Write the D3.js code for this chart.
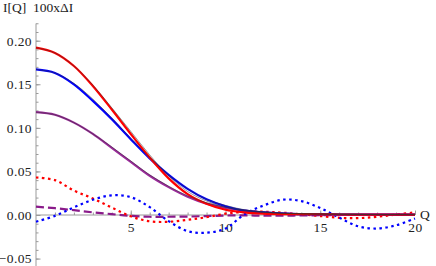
<!DOCTYPE html>
<html>
<head>
<meta charset="utf-8">
<script src="https://cdn.jsdelivr.net/npm/d3@7/dist/d3.min.js"></script>
<style>
  body { margin: 0; background: #fff; }
</style>
</head>
<body>
<div id="chart"></div>
<script>
// Q grid and curves
const qValues = [0, 1, 2, 3, 4, 5, 6, 7, 8, 9, 10, 11, 12, 13, 14, 15, 16, 17, 18, 19, 20];

const redI    = [0.192, 0.186, 0.171, 0.148, 0.121, 0.093, 0.066, 0.042, 0.024, 0.013, 0.006, 0.003, 0.0015, 0.001, 0.001, 0.0008, 0.0006, 0.0005, 0.0004, 0.0004, 0.0004];
const blueI   = [0.167, 0.163, 0.150, 0.131, 0.110, 0.087, 0.065, 0.046, 0.030, 0.018, 0.010, 0.005, 0.003, 0.0015, 0.001, 0.0008, 0.0006, 0.0005, 0.0004, 0.0004, 0.0004];
const purpleI = [0.118, 0.115, 0.106, 0.093, 0.077, 0.061, 0.045, 0.032, 0.021, 0.013, 0.008, 0.005, 0.003, 0.002, 0.001, 0.0008, 0.0006, 0.0005, 0.0004, 0.0004, 0.0004];

// thin black model curves drawn over the data
const fitRed    = [0.192, 0.186, 0.171, 0.149, 0.123, 0.096, 0.069, 0.045, 0.027, 0.016, 0.009, 0.005, 0.003, 0.002, 0.0015, 0.001, 0.001, 0.0008, 0.0006, 0.0005, 0.0005];
const fitBlue   = [0.167, 0.163, 0.151, 0.133, 0.111, 0.088, 0.066, 0.046, 0.030, 0.018, 0.011, 0.006, 0.0035, 0.002, 0.0013, 0.001, 0.0008, 0.0006, 0.0005, 0.0005, 0.0005];
const fitPurple = [0.118, 0.115, 0.106, 0.093, 0.078, 0.062, 0.046, 0.033, 0.022, 0.014, 0.009, 0.0055, 0.0035, 0.002, 0.0015, 0.001, 0.0008, 0.0006, 0.0005, 0.0005, 0.0005];

// 100 x deltaI
const redDelta    = [0.043, 0.040, 0.028, 0.019, 0.0085, -0.0015, -0.0072, -0.0078, -0.0055, -0.0025, 0.0015, 0.0035, 0.0038, 0.0027, 0.0008, -0.0012, -0.0032, -0.0036, -0.002, 0.0005, 0.003];
const blueDelta   = [-0.0077, -0.001, 0.0088, 0.0175, 0.0226, 0.0205, 0.009, -0.007, -0.0185, -0.0203, -0.0155, 0.0008, 0.0108, 0.0175, 0.016, 0.008, -0.003, -0.013, -0.0155, -0.0118, -0.004];
const purpleDelta = [0.0095, 0.0078, 0.0055, 0.003, 0.001, -0.001, -0.002, -0.002, -0.0018, -0.0012, -0.0006, -0.0004, -0.0008, -0.0008, -0.0005, -0.0003, 0, 0, 0, 0, 0];

const xMajor = [5, 10, 15, 20];
const xMinor = d3.range(1, 21);
const yMajor = [-0.05, 0, 0.05, 0.10, 0.15, 0.20];
const yMajorLabels = ["\u22120.05", "0.00", "0.05", "0.10", "0.15", "0.20"];
const yMinor = d3.range(-5, 23).map(d => d / 100);

const width = 436;
const height = 266;
const serif = "'Times New Roman', serif";

const svg = d3.select("#chart").append("svg")
    .attr("width", width)
    .attr("height", height)
    .attr("font-family", serif)
    .attr("font-size", 13.5);

const x = d3.scaleLinear().domain([0, 20]).range([36, 415]);
const y = d3.scaleLinear().domain([0, 0.2]).range([215, 40.7]);

const axisColor = "#9a9a9a";

function styleTicks(g) {
    g.attr("font-family", serif).attr("font-size", 13.5);
    g.select(".domain").remove();
    g.selectAll(".tick line").attr("stroke", axisColor);
    g.selectAll(".tick text").attr("fill", "#222").attr("letter-spacing", 0.4);
}

// Y axis (ticks point right, into the plot)
svg.append("g")
    .attr("transform", `translate(${x(0)},0)`)
    .call(d3.axisLeft(y).tickValues(yMinor).tickSize(-2.5).tickFormat(""))
    .call(styleTicks);

svg.append("g")
    .attr("transform", `translate(${x(0)},0)`)
    .call(d3.axisLeft(y).tickValues(yMajor).tickSize(-4.5).tickPadding(4)
        .tickFormat((d, i) => yMajorLabels[i]))
    .call(styleTicks);

svg.append("line")
    .attr("x1", x(0)).attr("x2", x(0))
    .attr("y1", 23.5).attr("y2", height)
    .attr("stroke", axisColor);

// X axis (ticks point up)
svg.append("g")
    .attr("transform", `translate(0,${y(0)})`)
    .call(d3.axisBottom(x).tickValues(xMinor).tickSize(-2.5).tickFormat(""))
    .call(styleTicks);

svg.append("g")
    .attr("transform", `translate(0,${y(0)})`)
    .call(d3.axisBottom(x).tickValues(xMajor).tickSize(-4.5).tickPadding(7))
    .call(styleTicks);

svg.append("line")
    .attr("x1", x(0)).attr("x2", x(20))
    .attr("y1", y(0)).attr("y2", y(0))
    .attr("stroke", axisColor);

// Axis labels
svg.append("text")
    .attr("x", 3)
    .attr("y", 12)
    .attr("fill", "#222")
    .attr("xml:space", "preserve")
    .text("I[Q]  100x\u0394I");

svg.append("text")
    .attr("x", 420)
    .attr("y", y(0) + 4)
    .attr("fill", "#222")
    .text("Q");

// Curves
const line = d3.line()
    .x((d, i) => x(qValues[i]))
    .y(d => y(d))
    .curve(d3.curveCatmullRom.alpha(0.5));

const series = [
    { values: purpleDelta, color: "#8a1a8a", width: 2.2, dash: "8,4" },
    { values: redDelta, color: "#ff0000", width: 2.2, dash: "2.5,3.5" },
    { values: blueDelta, color: "#0000ff", width: 2.2, dash: "2.5,3.5" },
    { values: purpleI, color: "#9a2a9a", width: 2.2, dash: null },
    { values: blueI, color: "#0000ff", width: 2.2, dash: null },
    { values: redI, color: "#ff0000", width: 2.2, dash: null },
    { values: fitPurple, color: "#333", width: 0.5, dash: null },
    { values: fitBlue, color: "#333", width: 0.5, dash: null },
    { values: fitRed, color: "#333", width: 0.5, dash: null }
];

svg.selectAll(".curve")
    .data(series)
    .enter()
    .append("path")
    .attr("class", "curve")
    .attr("fill", "none")
    .attr("stroke", d => d.color)
    .attr("stroke-width", d => d.width)
    .attr("stroke-dasharray", d => d.dash)
    .attr("d", d => line(d.values));
</script>
</body>
</html>
